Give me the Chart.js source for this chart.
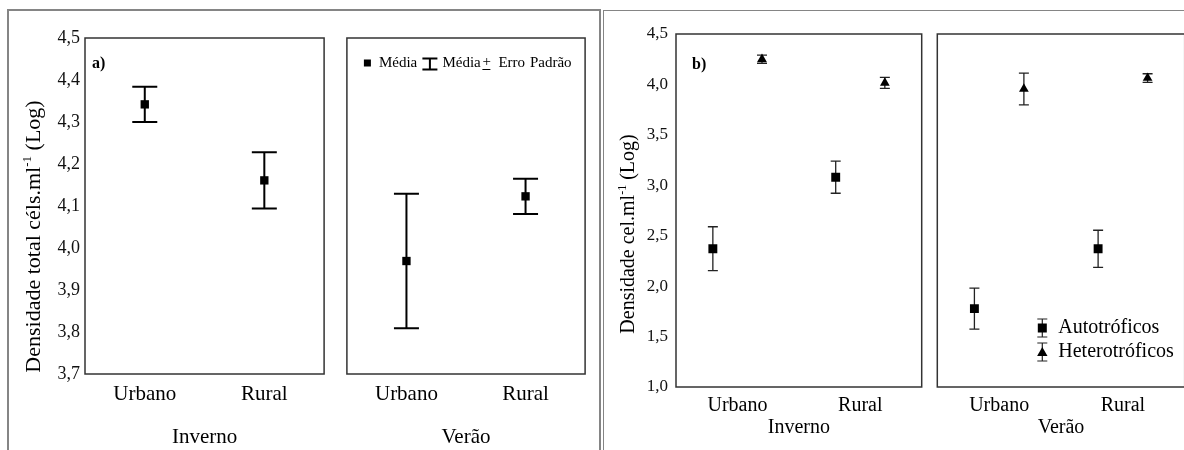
<!DOCTYPE html>
<html>
<head>
<meta charset="utf-8">
<script src="https://cdn.jsdelivr.net/npm/chart.js@4.4.0/dist/chart.umd.min.js"></script>
<style>
body{margin:0;background:#fff;overflow:hidden;}
#page{position:relative;width:1184px;height:450px;overflow:hidden;background:#fff;}
.frame{position:absolute;border-color:#858585;border-style:solid;}
.plot{position:absolute;top:0;height:450px;}
</style>
</head>
<body>
<div id="page">
  <div class="frame" style="left:7px;top:9px;width:590px;height:500px;border-width:2px 2px 0 2px;"></div>
  <div class="frame" style="left:603px;top:10px;width:700px;height:500px;border-width:1px 0 0 1px;"></div>
  <div class="plot" style="left:0px;width:330px;"><canvas id="aInverno"></canvas></div>
  <div class="plot" style="left:341px;width:250px;"><canvas id="aVerao"></canvas></div>
  <div class="plot" style="left:605px;width:323px;"><canvas id="bInverno"></canvas></div>
  <div class="plot" style="left:931px;width:260px;"><canvas id="bVerao"></canvas></div>
</div>
<script>
// sampling sites and seasons
const groups = ['Urbano', 'Rural'];
const seasons = ['Inverno', 'Verão'];

// a) total density, mean and standard error (log cells/ml)
const totalMeanInverno = [4.342, 4.161];
const totalErrInverno = [0.042, 0.067];
const totalMeanVerao = [3.969, 4.123];
const totalErrVerao = [0.160, 0.042];

// b) autotrophs and heterotrophs
const autoMeanInverno = [2.371, 3.080];
const autoErrInverno = [0.218, 0.159];
const autoMeanVerao = [1.777, 2.370];
const autoErrVerao = [0.204, 0.184];
const hetMeanInverno = [4.250, 4.015];
const hetErrInverno = [0.040, 0.055];
const hetMeanVerao = [3.955, 4.063];
const hetErrVerao = [0.157, 0.043];

const ticksA = [3.7, 3.8, 3.9, 4.0, 4.1, 4.2, 4.3, 4.4, 4.5];
const ticksB = [1.0, 1.5, 2.0, 2.5, 3.0, 3.5, 4.0, 4.5];

const SERIF = '"Liberation Serif", "Times New Roman", serif';
Chart.defaults.font.family = SERIF;
Chart.defaults.color = '#000';
Chart.defaults.animation = false;

function points(means, shift) {
    return means.map((m, i) => ({x: i + shift, y: m}));
}

// vertical bar with caps, mean +/- error
const errorBars = {
    id: 'errorBars',
    beforeDatasetsDraw(chart) {
        const ctx = chart.ctx;
        const yScale = chart.scales.y;
        chart.data.datasets.forEach((ds, i) => {
            if (!ds.errors) return;
            const meta = chart.getDatasetMeta(i);
            ctx.save();
            ctx.strokeStyle = ds.errorColor;
            ctx.lineWidth = ds.errorWidth;
            meta.data.forEach((pt, j) => {
                const v = ds.data[j].y, e = ds.errors[j];
                const yTop = yScale.getPixelForValue(v + e);
                const yBot = yScale.getPixelForValue(v - e);
                const x = pt.x;
                ctx.beginPath();
                ctx.moveTo(x, yTop); ctx.lineTo(x, yBot);
                ctx.moveTo(x - ds.capHalf, yTop); ctx.lineTo(x + ds.capHalf, yTop);
                ctx.moveTo(x - ds.capHalf, yBot); ctx.lineTo(x + ds.capHalf, yBot);
                ctx.stroke();
            });
            ctx.restore();
        });
    }
};

function drawYTitle(ctx, parts, cx, cy) {
    ctx.save();
    let total = 0;
    parts.forEach(p => {
        ctx.font = p.size + 'px ' + SERIF;
        p.w = ctx.measureText(p.text).width;
        total += p.w;
    });
    ctx.translate(cx, cy);
    ctx.rotate(-Math.PI / 2);
    ctx.textBaseline = 'middle';
    ctx.fillStyle = '#000';
    let x = -total / 2;
    parts.forEach(p => {
        ctx.font = p.size + 'px ' + SERIF;
        ctx.fillText(p.text, x, -(p.rise || 0));
        x += p.w;
    });
    ctx.restore();
}

function tri(ctx, x, y, r) {
    ctx.beginPath();
    ctx.moveTo(x, y - r);
    ctx.lineTo(x + r * 0.866, y + r / 2);
    ctx.lineTo(x - r * 0.866, y + r / 2);
    ctx.closePath();
    ctx.fill();
}

function legendMean(ctx, a) {
    const y = a.top + 25;
    ctx.fillStyle = '#000';
    ctx.strokeStyle = '#000';
    ctx.fillRect(a.left + 17, y - 3.5, 7, 7);
    ctx.font = '15px ' + SERIF;
    ctx.textBaseline = 'middle';
    ctx.fillText('Média', a.left + 32, y);
    // I-beam icon
    ctx.lineWidth = 2;
    ctx.beginPath();
    const ix = a.left + 83;
    ctx.moveTo(ix, y - 4.5); ctx.lineTo(ix, y + 6.5);
    ctx.moveTo(ix - 7.5, y - 4.5); ctx.lineTo(ix + 7.5, y - 4.5);
    ctx.moveTo(ix - 7.5, y + 6.5); ctx.lineTo(ix + 7.5, y + 6.5);
    ctx.stroke();
    ctx.fillText('Média', a.left + 95.5, y);
    ctx.fillText('+', a.left + 135.5, y - 1);
    ctx.lineWidth = 1;
    ctx.beginPath();
    ctx.moveTo(a.left + 135.5, y + 6.5); ctx.lineTo(a.left + 143.5, y + 6.5);
    ctx.stroke();
    ctx.fillText('Erro', a.left + 151.5, y);
    ctx.fillText('Padrão', a.left + 183, y);
}

function legendTrophic(ctx, a) {
    const ix = a.left + 105;
    const rows = [a.top + 294, a.top + 318];
    ctx.fillStyle = '#000';
    ctx.strokeStyle = '#222';
    ctx.lineWidth = 1.2;
    rows.forEach(y => {
        ctx.beginPath();
        ctx.moveTo(ix, y - 9); ctx.lineTo(ix, y + 9);
        ctx.moveTo(ix - 5, y - 9); ctx.lineTo(ix + 5, y - 9);
        ctx.moveTo(ix - 5, y + 9); ctx.lineTo(ix + 5, y + 9);
        ctx.stroke();
    });
    ctx.fillRect(ix - 4.5, rows[0] - 4.5, 9, 9);
    tri(ctx, ix, rows[1] + 1, 6);
    ctx.font = '20px ' + SERIF;
    ctx.textBaseline = 'middle';
    ctx.fillText('Autotróficos', a.left + 121, rows[0]);
    ctx.fillText('Heterotróficos', a.left + 121, rows[1]);
}

// plot box, panel letter, axis title and legends
const decor = {
    id: 'decor',
    afterDraw(chart, args, opts) {
        const ctx = chart.ctx;
        const a = chart.chartArea;
        ctx.save();
        ctx.strokeStyle = '#333';
        ctx.lineWidth = 1.5;
        ctx.strokeRect(a.left, a.top, a.right - a.left, a.bottom - a.top);
        if (opts.panel) {
            ctx.font = 'bold 16px ' + SERIF;
            ctx.textBaseline = 'middle';
            ctx.fillStyle = '#000';
            ctx.fillText(opts.panel, a.left + opts.panelX, a.top + opts.panelY);
        }
        if (opts.yTitle) {
            drawYTitle(ctx, opts.yTitle, a.left + opts.yTitleX, opts.yTitleY);
        }
        if (opts.legend === 'mean') legendMean(ctx, a);
        if (opts.legend === 'trophic') legendTrophic(ctx, a);
        ctx.restore();
    }
};

function yAxis(ticks, show, size, width, pad) {
    return {
        min: ticks[0], max: ticks[ticks.length - 1],
        grid: {display: false, drawTicks: false},
        border: {display: false},
        afterBuildTicks: s => { s.ticks = ticks.map(v => ({value: v})); },
        afterFit: s => { s.width = width; },
        ticks: {display: show, padding: pad, color: '#111', font: {size: size},
                callback: v => Number(v).toFixed(1).replace('.', ',')}
    };
}

function xAxis(season, size, height, tickPad, titlePad) {
    return {
        type: 'linear', min: -0.5, max: 1.5,
        grid: {display: false, drawTicks: false},
        border: {display: false},
        afterBuildTicks: s => { s.ticks = groups.map((g, i) => ({value: i})); },
        afterFit: s => { s.height = height; },
        ticks: {padding: tickPad, font: {size: size}, maxRotation: 0, autoSkip: false,
                callback: (v, i) => groups[i]},
        title: {display: true, text: season, font: {size: size}, padding: {top: 0, bottom: titlePad}}
    };
}

function meanSet(means, errs, shift, style, radius, cap, width, color) {
    return {
        data: points(means, shift),
        errors: errs,
        capHalf: cap,
        errorWidth: width,
        errorColor: color,
        pointStyle: style,
        pointRadius: radius,
        pointBackgroundColor: '#000',
        pointBorderWidth: 0,
        showLine: false
    };
}

function makeChart(id, datasets, scales, padding, decorOpts) {
    return new Chart(document.getElementById(id), {
        type: 'scatter',
        data: {datasets: datasets},
        options: {
            responsive: true,
            maintainAspectRatio: false,
            layout: {padding: padding},
            scales: scales,
            plugins: {legend: {display: false}, tooltip: {enabled: false}, decor: decorOpts}
        },
        plugins: [errorBars, decor]
    });
}

// a) total density
makeChart('aInverno',
    [meanSet(totalMeanInverno, totalErrInverno, 0, 'rect', 5.9, 12.5, 2, '#000')],
    {x: xAxis(seasons[0], 21, 76, 8, 0), y: yAxis(ticksA, true, 18, 85, 5)},
    {left: 0, right: 5, top: 38, bottom: 0},
    {panel: 'a)', panelX: 7, panelY: 26, yTitleX: -50.5, yTitleY: 236.5,
     yTitle: [{text: 'Densidade total céls.ml', size: 22}, {text: '-1', size: 13, rise: 7},
              {text: ' (Log)', size: 22}]});

makeChart('aVerao',
    [meanSet(totalMeanVerao, totalErrVerao, 0, 'rect', 5.9, 12.5, 2, '#000')],
    {x: xAxis(seasons[1], 21, 76, 8, 0), y: yAxis(ticksA, false, 18, 0, 5)},
    {left: 5, right: 5, top: 38, bottom: 0},
    {legend: 'mean'});

// b) autotrophs vs heterotrophs
makeChart('bInverno',
    [meanSet(autoMeanInverno, autoErrInverno, -0.2, 'rect', 6.3, 5, 1.3, '#222'),
     meanSet(hetMeanInverno, hetErrInverno, 0.2, 'triangle', 5.6, 5, 1.3, '#222')],
    {x: xAxis(seasons[0], 20, 63, 7, 10), y: yAxis(ticksB, true, 17, 71, 8)},
    {left: 0, right: 5, top: 34, bottom: 0},
    {panel: 'b)', panelX: 16, panelY: 31, yTitleX: -47, yTitleY: 234,
     yTitle: [{text: 'Densidade cel.ml', size: 20}, {text: '-1', size: 12, rise: 6.5},
              {text: ' (Log)', size: 20}]});

makeChart('bVerao',
    [meanSet(autoMeanVerao, autoErrVerao, -0.2, 'rect', 6.3, 5, 1.3, '#222'),
     meanSet(hetMeanVerao, hetErrVerao, 0.2, 'triangle', 5.6, 5, 1.3, '#222')],
    {x: xAxis(seasons[1], 20, 63, 7, 10), y: yAxis(ticksB, false, 17, 0, 8)},
    {left: 5, right: 6, top: 34, bottom: 0},
    {legend: 'trophic'});
</script>
</body>
</html>
